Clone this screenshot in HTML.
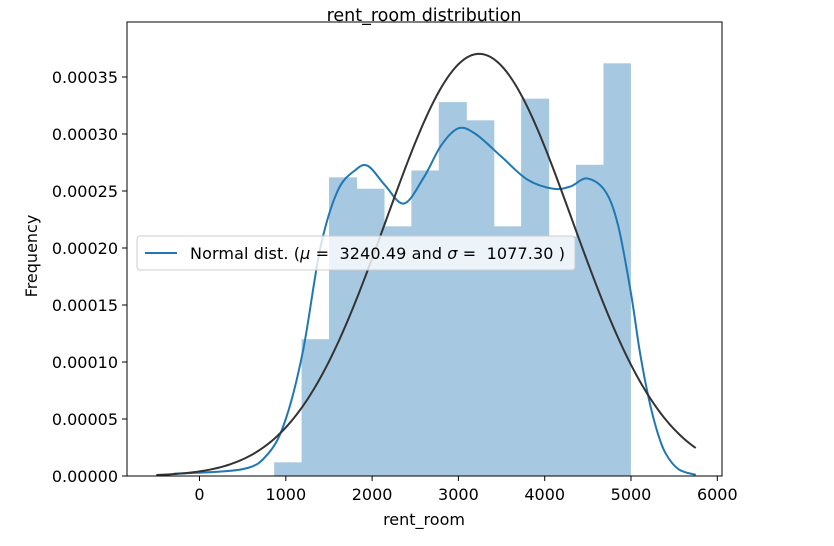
<!DOCTYPE html>
<html><head><meta charset="utf-8"><style>
body{margin:0;background:#fff;}
text{font-family:"DejaVu Sans","Liberation Sans",sans-serif;fill:#000;}
</style></head><body>
<svg id="chart" width="834" height="541" viewBox="0 0 834 541">
<g id="bars"></g>
<path id="kde" fill="none" stroke="#1f77b4" stroke-width="2"/>
<path id="norm" fill="none" stroke="#333" stroke-width="2"/>
<rect x="127" y="22" width="595" height="454" fill="none" stroke="#000" stroke-width="1"/>
<g id="xt"></g>
<g id="yt"></g>
<text x="424" y="21" font-size="17.5" text-anchor="middle">rent_room distribution</text>
<text x="424" y="525" font-size="16" text-anchor="middle">rent_room</text>
<text transform="translate(37,256) rotate(-90)" font-size="16" text-anchor="middle">Frequency</text>
<g>
<rect x="137" y="236" width="438" height="34" rx="3" fill="#fff" fill-opacity="0.8" stroke="#ccc"/>
<line x1="145" y1="253" x2="177" y2="253" stroke="#1f77b4" stroke-width="2"/>
<text x="190" y="259" font-size="16" textLength="375" xml:space="preserve">Normal dist. (<tspan font-style="italic">μ</tspan> =  3240.49 and <tspan font-style="italic">σ</tspan> =  1077.30 )</text>
</g>
</svg>
<script>
const binStart = 865, binWidth = 318;
const binValues = [0.000012,0.00012,0.000262,0.000252,0.000219,0.000268,0.000328,0.000312,0.000219,0.000331,0.00021,0.000273,0.000362];
const kdeX = [-300,500,800,1000,1200,1400,1600,1800,1952,2150,2370,2600,2800,3000,3200,3500,3800,4100,4300,4490,4700,4850,5000,5100,5200,5300,5400,5550,5750];
const kdeY = [0.000002,0.000006,0.00002,0.00005,0.00011,0.0002,0.00025,0.000268,0.000272,0.000255,0.000239,0.000262,0.00029,0.000305,0.0003,0.00028,0.00026,0.000252,0.000254,0.000261,0.00025,0.00022,0.00016,0.00011,0.00007,0.00004,0.00002,0.000006,0.000001];
const mu = [3240.49], sigma = [1077.30];
const normRange = [-500, 5750];
const xTicks = [0,1000,2000,3000,4000,5000,6000];
const yTicks = [0,0.00005,0.0001,0.00015,0.0002,0.00025,0.0003,0.00035];
const NS='http://www.w3.org/2000/svg';
const X = v => 199.5 + v*0.0863;
const Y = v => 476 - v/0.00005*57;
const bars = document.getElementById('bars');
binValues.forEach((v,i)=>{
  const r=document.createElementNS(NS,'rect');
  const x0=X(binStart+i*binWidth), x1=X(binStart+(i+1)*binWidth);
  r.setAttribute('x',x0);r.setAttribute('width',x1-x0+(i<binValues.length-1?0.6:0));
  r.setAttribute('y',Y(v));r.setAttribute('height',476-Y(v));
  r.setAttribute('fill','#a6c8e0');
  
  
  bars.appendChild(r);
});
function smooth(px,py){
  let d='M'+px[0]+','+py[0];
  for(let i=0;i<px.length-1;i++){
    const x0=px[i-1]??px[i],y0=py[i-1]??py[i],x3=px[i+2]??px[i+1],y3=py[i+2]??py[i+1];
    const c1x=px[i]+(px[i+1]-x0)/6,c1y=py[i]+(py[i+1]-y0)/6;
    const c2x=px[i+1]-(x3-px[i])/6,c2y=py[i+1]-(y3-py[i])/6;
    d+=' C'+c1x+','+c1y+' '+c2x+','+c2y+' '+px[i+1]+','+py[i+1];
  }
  return d;
}
document.getElementById('kde').setAttribute('d',smooth(kdeX.map(X),kdeY.map(Y)));
let nd='';
for(let k=0;k<=200;k++){
  const x=normRange[0]+(normRange[1]-normRange[0])*k/200;
  const y=Math.exp(-0.5*((x-mu[0])/sigma[0])**2)/(sigma[0]*Math.sqrt(2*Math.PI));
  nd+=(k?'L':'M')+X(x).toFixed(2)+','+Y(y).toFixed(2);
}
document.getElementById('norm').setAttribute('d',nd);
const xt=document.getElementById('xt');
xTicks.forEach(t=>{
  const l=document.createElementNS(NS,'line');
  l.setAttribute('x1',X(t));l.setAttribute('x2',X(t));l.setAttribute('y1',476);l.setAttribute('y2',481);l.setAttribute('stroke','#000');
  
  
  xt.appendChild(l);
  const s=document.createElementNS(NS,'text');
  s.setAttribute('x',X(t));s.setAttribute('y',500);s.setAttribute('font-size','16');s.setAttribute('text-anchor','middle');
  
  
  s.textContent=t;xt.appendChild(s);
});
const yt=document.getElementById('yt');
yTicks.forEach(t=>{
  const l=document.createElementNS(NS,'line');
  l.setAttribute('x1',122);l.setAttribute('x2',127);l.setAttribute('y1',Y(t));l.setAttribute('y2',Y(t));l.setAttribute('stroke','#000');
  
  
  yt.appendChild(l);
  const s=document.createElementNS(NS,'text');
  s.setAttribute('x',118);s.setAttribute('y',Y(t)+6);s.setAttribute('font-size','16');s.setAttribute('text-anchor','end');
  
  
  s.textContent=t.toFixed(5);yt.appendChild(s);
});
</script>
</body></html>
